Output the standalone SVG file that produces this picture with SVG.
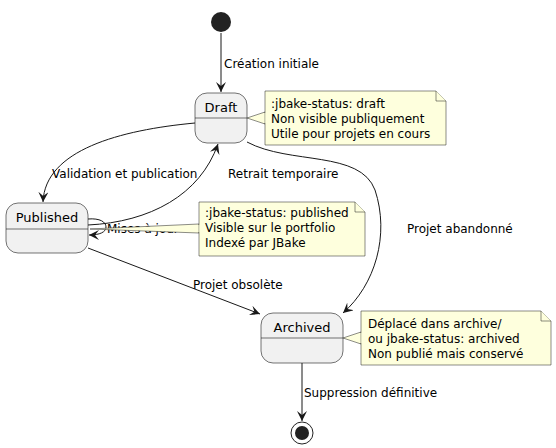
<svg xmlns="http://www.w3.org/2000/svg" width="556" height="448" viewBox="0 0 556 448">
<style>
text{font-family:"DejaVu Sans",sans-serif;fill:#000}
.lbl{font-size:12px}
.st{font-size:13px}
.state{fill:#F1F1F1;stroke:#181818;stroke-width:0.6}
.note{fill:#FEFFDD;stroke:#181818;stroke-width:0.5}
.edge{fill:none;stroke:#181818;stroke-width:1}
</style>
<defs>
<marker id="arr" viewBox="0 0 10 10" refX="10" refY="5" markerWidth="10" markerHeight="10" markerUnits="userSpaceOnUse" orient="auto">
<path d="M0,0 L10,5 L0,10 L4,5 Z" fill="#181818"/>
</marker>
</defs>
<g id="connectors">
<path class="edge" d="M221,33 L221,92" marker-end="url(#arr)"/>
<text class="lbl" x="224" y="68">Création initiale</text>
<path class="edge" d="M195,123 C120,130 45,150 43,202" marker-end="url(#arr)"/>
<text class="lbl" x="52" y="178">Validation et publication</text>
<path class="edge" d="M88,225 C150,222 200,195 218,144" marker-end="url(#arr)"/>
<text class="lbl" x="228" y="178">Retrait temporaire</text>
<path class="edge" d="M247,142 C290,165 360,150 375,190 C390,235 375,285 343,313" marker-end="url(#arr)"/>
<text class="lbl" x="407" y="233">Projet abandonné</text>
<path class="edge" d="M88,219 C100,218 106,222 106,227 C106,232 100,235 89,235" marker-end="url(#arr)"/>
<text class="lbl" x="107" y="233">Mises à jour</text>
<path class="edge" d="M88,248 L260,314" marker-end="url(#arr)"/>
<text class="lbl" x="193" y="289">Projet obsolète</text>
<path class="edge" d="M302,363 L302,421" marker-end="url(#arr)"/>
<text class="lbl" x="304" y="397">Suppression définitive</text>
</g>
<g id="start"><circle cx="221" cy="22" r="10" fill="#222"/></g>
<g id="draft">
<rect class="state" x="195" y="93" width="52" height="50" rx="12"/>
<line x1="195" y1="118" x2="247" y2="118" stroke="#181818" stroke-width="0.6"/>
<text class="st" x="221" y="112" text-anchor="middle">Draft</text>
</g>
<g id="note-draft">
<polygon class="note" points="265,112 247,118 265,124"/>
<path class="note" d="M265,91 L436,91 L446,101 L446,145 L265,145 Z"/>
<path class="note" d="M436,91 L436,101 L446,101"/>
<line x1="265" y1="113" x2="265" y2="123" stroke="#FEFFDD" stroke-width="1"/>
<text class="lbl" x="271" y="108">:jbake-status: draft</text>
<text class="lbl" x="271" y="123">Non visible publiquement</text>
<text class="lbl" x="271" y="138">Utile pour projets en cours</text>
</g>
<g id="published">
<rect class="state" x="6" y="203" width="82" height="50" rx="12"/>
<line x1="6" y1="229" x2="88" y2="229" stroke="#181818" stroke-width="0.6"/>
<text class="st" x="47" y="222" text-anchor="middle">Published</text>
</g>
<g id="note-published">
<polygon class="note" points="199,224 90,229 199,233"/>
<path class="note" d="M199,202 L355,202 L365,212 L365,256 L199,256 Z"/>
<path class="note" d="M355,202 L355,212 L365,212"/>
<line x1="199" y1="225" x2="199" y2="232" stroke="#FEFFDD" stroke-width="1"/>
<text class="lbl" x="205" y="217">:jbake-status: published</text>
<text class="lbl" x="205" y="232">Visible sur le portfolio</text>
<text class="lbl" x="205" y="247">Indexé par JBake</text>
</g>
<g id="archived">
<rect class="state" x="261" y="313" width="82" height="50" rx="12"/>
<line x1="261" y1="338" x2="343" y2="338" stroke="#181818" stroke-width="0.6"/>
<text class="st" x="302" y="332" text-anchor="middle">Archived</text>
</g>
<g id="note-archived">
<polygon class="note" points="361,332 343,338 361,344"/>
<path class="note" d="M361,311 L541,311 L551,321 L551,365 L361,365 Z"/>
<path class="note" d="M541,311 L541,321 L551,321"/>
<line x1="361" y1="333" x2="361" y2="343" stroke="#FEFFDD" stroke-width="1"/>
<text class="lbl" x="368" y="328">Déplacé dans archive/</text>
<text class="lbl" x="368" y="343">ou jbake-status: archived</text>
<text class="lbl" x="368" y="358">Non publié mais conservé</text>
</g>
<g id="end">
<circle cx="302" cy="433" r="11" fill="none" stroke="#222" stroke-width="1"/>
<circle cx="302" cy="433" r="7" fill="#222"/>
</g>
</svg>
